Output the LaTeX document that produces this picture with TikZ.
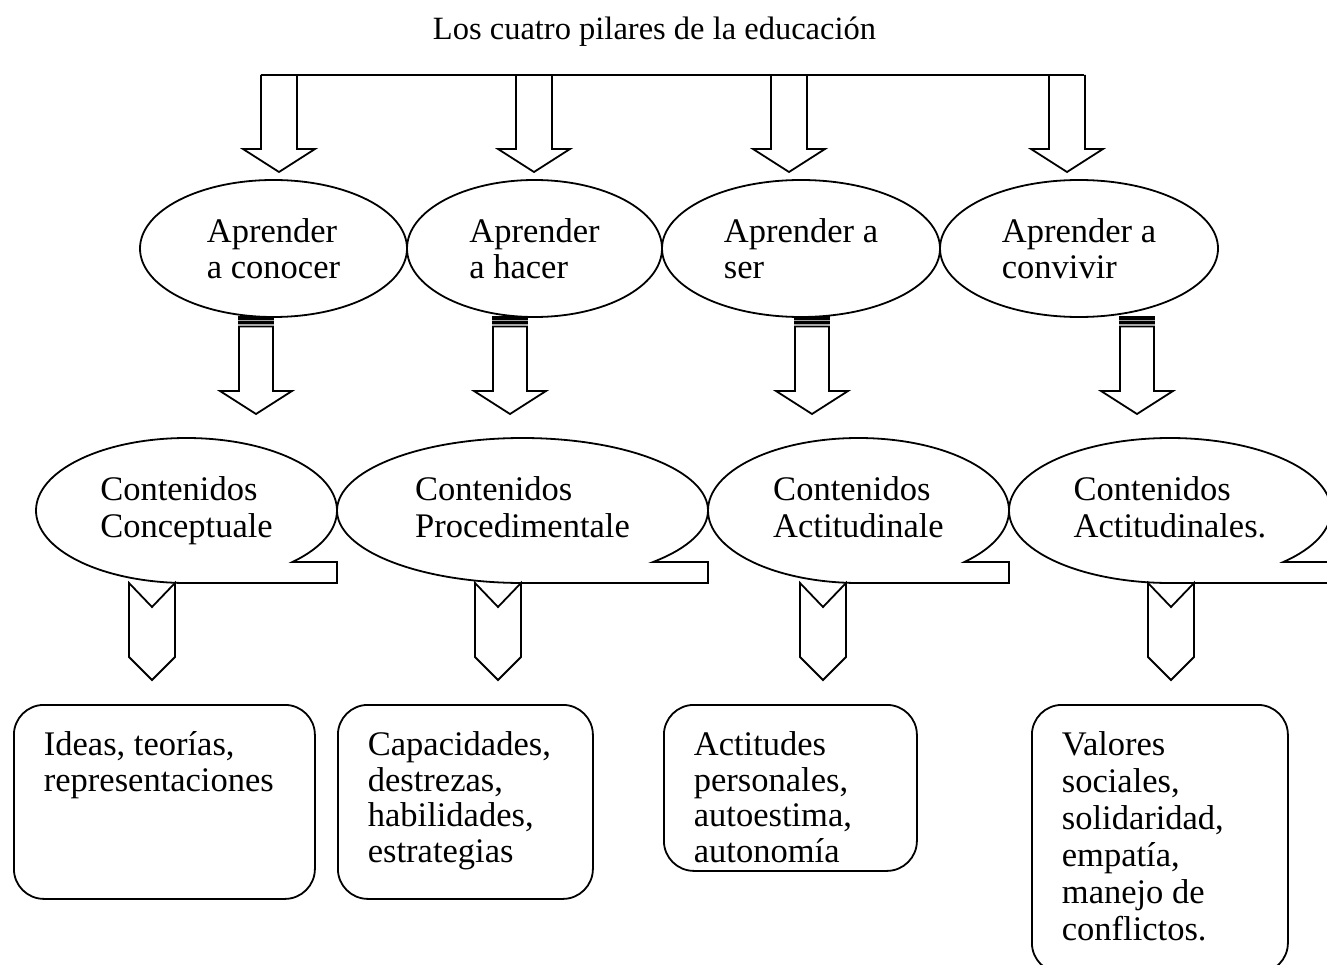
\documentclass[tikz,border=0pt]{standalone}
\usepackage{fontspec}
\setmainfont{Liberation Serif}
\usetikzlibrary{shapes.geometric}

\begin{document}
\begin{tikzpicture}[x=1pt,y=1pt,line width=1.8pt,
    pilar/.style={ellipse,draw,inner sep=0pt,align=flush left,minimum height=137pt,font=\fontsize{34.5}{36}\selectfont\frenchspacing},
    globo/.style={ellipse,inner sep=0pt,align=flush left,minimum height=145pt,font=\fontsize{34.5}{36.5}\selectfont\frenchspacing,execute at end node=\vphantom{p}},
    caja/.style={draw,rounded corners=30pt,anchor=north west,align=flush left,inner xsep=30pt,inner ysep=27.5pt,text height=23.5pt,font=\fontsize{34.5}{35.5}\selectfont\frenchspacing}]
        \useasboundingbox (0,0) rectangle (1327,-965);
        \clip (0,0) rectangle (1327,-965);
        \node[anchor=base,font=\fontsize{32.5}{34}\selectfont] (titulo) at (654.5,-40) {Los cuatro pilares de la educación};
        % los cuatro pilares
        \draw (261,-75) -- (1084,-75);
        \draw (261,-75) -- (261,-149) -- (243,-149) -- (279,-172) -- (315,-149) -- (297,-149) -- (297,-75);
        \draw (516,-75) -- (516,-149) -- (498,-149) -- (534,-172) -- (570,-149) -- (552,-149) -- (552,-75);
        \draw (771,-75) -- (771,-149) -- (753,-149) -- (789,-172) -- (825,-149) -- (807,-149) -- (807,-75);
        \draw (1049,-75) -- (1049,-149) -- (1031,-149) -- (1067,-172) -- (1103,-149) -- (1085,-149) -- (1085,-75);
        \node[pilar,minimum width=267pt] (a1) at (273.5,-248.5) {Aprender\\a conocer};
        \node[pilar,minimum width=255pt] (a2) at (534.5,-248.5) {Aprender\\a hacer};
        \node[pilar,minimum width=278pt] (a3) at (801,-248.5) {Aprender a\\ser};
        \node[pilar,minimum width=278pt] (a4) at (1079,-248.5) {Aprender a\\convivir};
        % flechas rayadas
        \draw (239,-317) rectangle (273,-319) (239,-321.5) rectangle (273,-323.5) (239,-326.5) -- (239,-391) -- (220,-391) -- (256,-414) -- (292,-391) -- (273,-391) -- (273,-326.5) -- cycle;
        \draw (493,-317) rectangle (527,-319) (493,-321.5) rectangle (527,-323.5) (493,-326.5) -- (493,-391) -- (474,-391) -- (510,-414) -- (546,-391) -- (527,-391) -- (527,-326.5) -- cycle;
        \draw (795,-317) rectangle (829,-319) (795,-321.5) rectangle (829,-323.5) (795,-326.5) -- (795,-391) -- (776,-391) -- (812,-414) -- (848,-391) -- (829,-391) -- (829,-326.5) -- cycle;
        \draw (1120,-317) rectangle (1154,-319) (1120,-321.5) rectangle (1154,-323.5) (1120,-326.5) -- (1120,-391) -- (1101,-391) -- (1137,-414) -- (1173,-391) -- (1154,-391) -- (1154,-326.5) -- cycle;
        % contenidos
        \node[globo,minimum width=301pt] (c1) at (186.5,-510.5) {Contenidos\\Conceptuale};
        \node[globo,minimum width=371pt] (c2) at (522.5,-510.5) {Contenidos\\Procedimentale};
        \node[globo,minimum width=301pt] (c3) at (858.5,-510.5) {Contenidos\\Actitudinale};
        \node[globo,minimum width=322pt] (c4) at (1170,-510.5) {Contenidos\\Actitudinales.};
        \draw ([shift={(-45.25:150.5 and 72.5)}]c1.center) arc[start angle=-45.25,end angle=270,x radius=150.5,y radius=72.5] -- (337,-583) -- (337,-562) -- cycle;
        \draw ([shift={(-45.25:185.5 and 72.5)}]c2.center) arc[start angle=-45.25,end angle=270,x radius=185.5,y radius=72.5] -- (708,-583) -- (708,-562) -- cycle;
        \draw ([shift={(-45.25:150.5 and 72.5)}]c3.center) arc[start angle=-45.25,end angle=270,x radius=150.5,y radius=72.5] -- (1009,-583) -- (1009,-562) -- cycle;
        \draw ([shift={(-45.25:161 and 72.5)}]c4.center) arc[start angle=-45.25,end angle=270,x radius=161,y radius=72.5] -- (1331,-583) -- (1331,-562) -- cycle;
        % galones
        \draw (129,-583) -- (152,-607) -- (175,-583) -- (175,-657) -- (152,-680) -- (129,-657) -- cycle;
        \draw (475,-583) -- (498,-607) -- (521,-583) -- (521,-657) -- (498,-680) -- (475,-657) -- cycle;
        \draw (800,-583) -- (823,-607) -- (846,-583) -- (846,-657) -- (823,-680) -- (800,-657) -- cycle;
        \draw (1148,-583) -- (1171,-607) -- (1194,-583) -- (1194,-657) -- (1171,-680) -- (1148,-657) -- cycle;
        \node[caja,text width=241pt,text depth=115.5pt] (b1) at (13,-704) {Ideas, teorías,\\representaciones};
        \node[caja,text width=195pt,text depth=115.5pt] (b2) at (337,-704) {Capacidades,\\destrezas,\\habilidades,\\estrategias};
        \node[caja,text width=193pt,text depth=87.5pt] (b3) at (663,-704) {Actitudes\\personales,\\autoestima,\\autonomía};
        \node[caja,text width=196pt,text depth=189.5pt,font=\fontsize{34.5}{37}\selectfont\frenchspacing] (b4) at (1031,-704) {Valores\\sociales,\\solidaridad,\\empatía,\\manejo de\\conflictos.};
    \end{tikzpicture}
\end{document}
